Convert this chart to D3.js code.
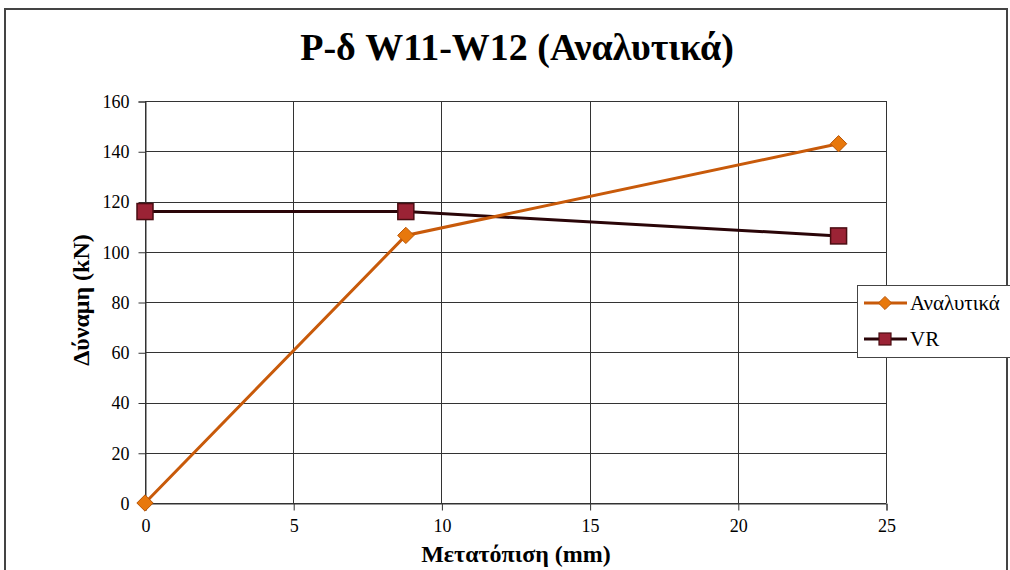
<!DOCTYPE html>
<html>
<head>
<meta charset="utf-8">
<script src="https://cdn.jsdelivr.net/npm/d3@7"></script>
<style>
  body { margin: 0; background: #fff; }
  svg { display: block; }
</style>
</head>
<body>
<svg id="chart" width="1010" height="570"></svg>
<script>
// series data (displacement mm, force kN)
var analytikaX = [0, 8.8, 23.4];
var analytikaY = [0, 106.5, 143];
var vrX = [0, 8.8, 23.4];
var vrY = [116, 116, 106.3];
var xTicks = [0, 5, 10, 15, 20, 25];
var yTicks = [0, 20, 40, 60, 80, 100, 120, 140, 160];
var seriesNames = ['Αναλυτικά', 'VR'];

var svg = d3.select('#chart');
var serif = 'Liberation Serif';

// outer chart frame
svg.append('rect').attr('x', 5).attr('y', 9).attr('width', 1002).attr('height', 600)
    .attr('fill', '#fff').attr('stroke', '#444').attr('stroke-width', 2);

var x = d3.scaleLinear().domain([0, 25]).range([145, 886]);
var y = d3.scaleLinear().domain([0, 160]).range([503, 101]);

// grid
var grid = svg.append('g');
grid.selectAll('line.h').data(yTicks).enter().append('line')
    .attr('x1', x(0)).attr('x2', x(25))
    .attr('y1', function (d) { return Math.round(y(d)) + 0.5; })
    .attr('y2', function (d) { return Math.round(y(d)) + 0.5; })
    .attr('stroke', '#333').attr('stroke-width', 1);
grid.selectAll('line.v').data(xTicks).enter().append('line')
    .attr('y1', y(0)).attr('y2', y(160))
    .attr('x1', function (d) { return Math.round(x(d)) + 0.5; })
    .attr('x2', function (d) { return Math.round(x(d)) + 0.5; })
    .attr('stroke', '#333').attr('stroke-width', 1);

// axes
var xAxis = svg.append('g').attr('transform', 'translate(0.5,' + (Math.round(y(0)) + 0.5) + ')')
    .call(d3.axisBottom(x).tickValues(xTicks).tickSize(7).tickPadding(9).tickFormat(d3.format('d')));
var yAxis = svg.append('g').attr('transform', 'translate(' + (Math.round(x(0)) + 0.5) + ',0.5)')
    .call(d3.axisLeft(y).tickValues(yTicks).tickSize(7).tickPadding(9).tickFormat(d3.format('d')));
[xAxis, yAxis].forEach(function (a) {
    a.attr('font-family', serif).attr('font-size', 18);
    a.select('.domain').attr('stroke', '#333');
    a.selectAll('.tick line').attr('stroke', '#333');
    a.selectAll('.tick text').attr('fill', '#000');
});

// lines
var line = d3.line().x(function (d) { return x(d[0]); }).y(function (d) { return y(d[1]); });
var analytika = d3.zip(analytikaX, analytikaY);
var vr = d3.zip(vrX, vrY);

svg.append('path').datum(vr).attr('d', line).attr('fill', 'none')
    .attr('stroke', '#2a0508').attr('stroke-width', 3);
svg.append('path').datum(analytika).attr('d', line).attr('fill', 'none')
    .attr('stroke', '#c85a0a').attr('stroke-width', 3);

// markers
svg.selectAll('rect.vr').data(vr).enter().append('rect')
    .attr('x', function (d) { return x(d[0]) - 8; })
    .attr('y', function (d) { return y(d[1]) - 8; })
    .attr('width', 16).attr('height', 16)
    .attr('fill', '#9b2335').attr('stroke', '#4a0d12').attr('stroke-width', 1.5);
svg.selectAll('path.an').data(analytika).enter().append('path')
    .attr('d', d3.symbol().type(d3.symbolDiamond2).size(170))
    .attr('transform', function (d) { return 'translate(' + x(d[0]) + ',' + y(d[1]) + ')'; })
    .attr('fill', '#e8780c').attr('stroke', '#b85508').attr('stroke-width', 1);

// title
svg.append('text').attr('x', 517).attr('y', 60).attr('text-anchor', 'middle')
    .attr('font-family', serif).attr('font-weight', 'bold').attr('font-size', 38)
    .text('P-δ W11-W12 (Αναλυτικά)');

// axis titles
svg.append('text').attr('x', 516).attr('y', 562).attr('text-anchor', 'middle')
    .attr('font-family', serif).attr('font-weight', 'bold').attr('font-size', 24)
    .text('Μετατόπιση (mm)');
svg.append('text').attr('transform', 'translate(89,300) rotate(-90)').attr('text-anchor', 'middle')
    .attr('font-family', serif).attr('font-weight', 'bold').attr('font-size', 24)
    .text('Δύναμη (kN)');

// legend
var lg = svg.append('g');
lg.append('rect').attr('x', 857.5).attr('y', 285.5).attr('width', 160).attr('height', 72)
    .attr('fill', '#fff').attr('stroke', '#444').attr('stroke-width', 1);
var lgColors = ['#c85a0a', '#2a0508'];
seriesNames.forEach(function (name, i) {
    var ly = 303 + i * 36;
    lg.append('line').attr('x1', 864).attr('x2', 907).attr('y1', ly).attr('y2', ly)
        .attr('stroke', lgColors[i]).attr('stroke-width', 3);
    if (i === 0) {
        lg.append('path').attr('d', d3.symbol().type(d3.symbolDiamond2).size(110))
            .attr('transform', 'translate(885,' + ly + ')')
            .attr('fill', '#e8780c').attr('stroke', '#b85508');
    } else {
        lg.append('rect').attr('x', 879).attr('y', ly - 6).attr('width', 12).attr('height', 12)
            .attr('fill', '#9b2335').attr('stroke', '#4a0d12').attr('stroke-width', 1.2);
    }
    lg.append('text').attr('x', 910).attr('y', ly + 7).attr('font-family', serif)
        .attr('font-size', 21).text(name);
});
</script>
</body>
</html>
